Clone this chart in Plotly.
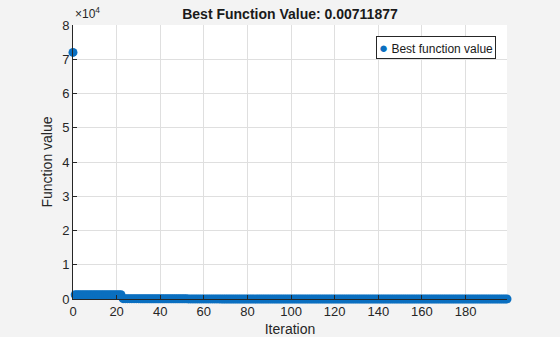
import plotly.graph_objects as go

iterations = list(range(0, 200))
best_values = ([72000] + [1250] * 22 + [95] * 8 + [61] * 10 + [38] * 12 + [21] * 15
               + [12.4] * 15 + [6.1] * 20 + [2.3] * 20 + [0.84] * 25 + [0.21] * 25
               + [0.0071] * 27)
y_tickvals = [0, 10000, 20000, 30000, 40000, 50000, 60000, 70000, 80000]
y_ticktext = ["0", "1", "2", "3", "4", "5", "6", "7", "8"]
x_tickvals = [0, 20, 40, 60, 80, 100, 120, 140, 160, 180]
series_name = "Best function value"
marker_color = "#0a6fc0"

font = "Liberation Sans, Arial, Helvetica, sans-serif"
fig = go.Figure()
fig.add_trace(go.Scatter(
    x=iterations, y=best_values, mode="markers", name=series_name, showlegend=False,
    marker=dict(color=marker_color, size=9, line=dict(width=0)), cliponaxis=False,
))
fig.update_layout(
    width=560, height=337,
    margin=dict(l=73, r=53, t=25, b=38),
    paper_bgcolor="#f3f3f3", plot_bgcolor="white",
    font=dict(family=font, size=13, color="#262626"),
    title=dict(text="<b>Best Function Value: 0.00711877</b>", x=(73 + 217) / 560, xanchor="center",
               y=1 - 14 / 337, yanchor="middle", font=dict(size=14, color="#1a1a1a")),
    xaxis=dict(range=[0, 199], tickvals=x_tickvals, showgrid=True, gridcolor="#dfdfdf",
               zeroline=False, showline=True, linecolor="#262626", linewidth=1,
               ticks="inside", ticklen=4, tickcolor="#262626", automargin=False,
               title=dict(text="Iteration", font=dict(size=14), standoff=6)),
    yaxis=dict(range=[0, 80000], tickvals=y_tickvals, ticktext=y_ticktext, showgrid=True,
               gridcolor="#dfdfdf", zeroline=False, showline=True, linecolor="#262626",
               linewidth=1, ticks="inside", ticklen=4, tickcolor="#262626", automargin=False,
               title=dict(text="Function value", font=dict(size=14), standoff=6)),
)
fig.add_annotation(text="×10<sup>4</sup>", xref="paper", yref="paper", x=0, y=1,
                   xanchor="left", yanchor="bottom", showarrow=False,
                   font=dict(size=12, color="#262626"), xshift=0, yshift=2)
fig.add_annotation(text=f"<span style='color:{marker_color};font-size:15px'>●</span> {series_name}",
                   xref="paper", yref="paper", x=(496 - 73) / 434, y=(299 - 36) / 274,
                   xanchor="right", yanchor="top", showarrow=False, align="left",
                   bgcolor="white", bordercolor="#262626", borderwidth=1, borderpad=2,
                   font=dict(size=12, color="#1a1a1a"))
fig.write_html("out.html")
